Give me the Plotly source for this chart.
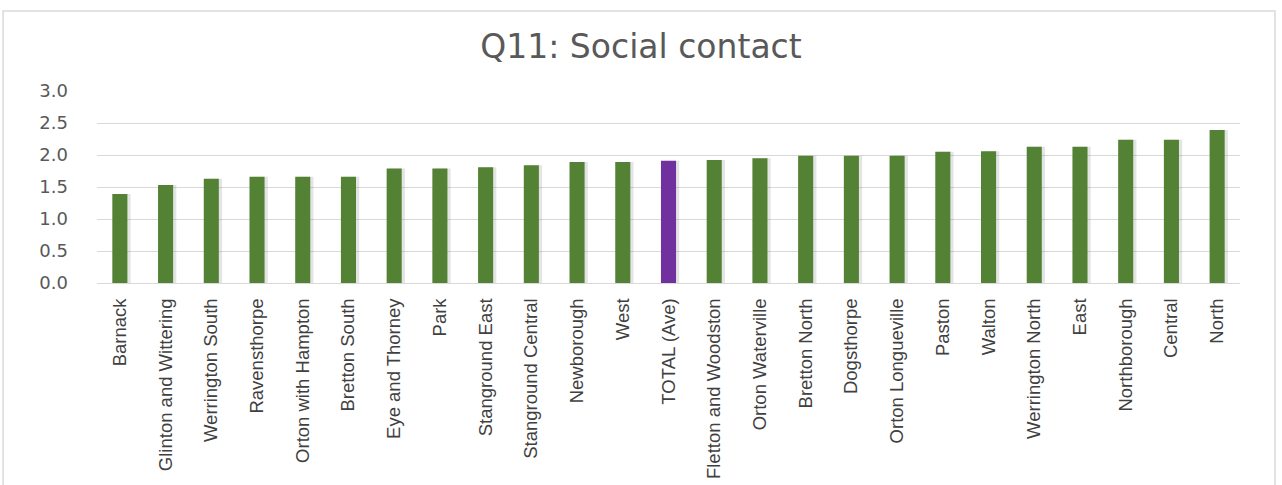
import plotly.graph_objects as go

# Q11 social contact scores by area
AREAS = [
    'Barnack', 'Glinton and Wittering', 'Werrington South', 'Ravensthorpe',
    'Orton with Hampton', 'Bretton South', 'Eye and Thorney', 'Park',
    'Stanground East', 'Stanground Central', 'Newborough', 'West',
    'TOTAL (Ave)', 'Fletton and Woodston', 'Orton Waterville', 'Bretton North',
    'Dogsthorpe', 'Orton Longueville', 'Paston', 'Walton',
    'Werrington North', 'East', 'Northborough', 'Central', 'North',
]
SCORES = [
    1.39, 1.53, 1.63, 1.66, 1.66, 1.66, 1.79, 1.79,
    1.81, 1.84, 1.89, 1.89, 1.91, 1.92, 1.95, 1.99,
    1.99, 1.99, 2.05, 2.06, 2.13, 2.13, 2.24, 2.24, 2.39,
]
Y_TICKS = [0.0, 0.5, 1.0, 1.5, 2.0, 2.5, 3.0]

GREEN = '#548235'
PURPLE = '#7030a0'
colors = [PURPLE if a.startswith('TOTAL') else GREEN for a in AREAS]

BAR_W = 0.33

fig = go.Figure()
# soft drop shadow to the right of each bar, like the Excel original
fig.add_trace(go.Bar(
    x=AREAS, y=SCORES, width=BAR_W, offset=-BAR_W / 2 + 0.07,
    marker=dict(color='rgba(90,90,90,0.16)', line=dict(width=0)),
    hoverinfo='skip',
))
fig.add_trace(go.Bar(
    x=AREAS, y=SCORES, width=BAR_W, offset=-BAR_W / 2,
    marker=dict(color=colors, line=dict(width=0)),
))

fig.update_layout(
    width=1282, height=485,
    margin=dict(l=97, r=42, t=91, b=202),
    paper_bgcolor='white', plot_bgcolor='white',
    barmode='overlay',
    showlegend=False,
    title=dict(text='Q11: Social contact', x=0.5, xanchor='center',
               y=0.905, yanchor='middle',
               font=dict(family='DejaVu Sans', size=33, color='#595959')),
    xaxis=dict(tickangle=-90, showgrid=False, showline=True,
               linecolor='#d9d9d9', linewidth=1, ticks='',
               ticklabelstandoff=7, automargin=False,
               tickfont=dict(family='Liberation Sans', size=18.5, color='#404040')),
    yaxis=dict(range=[0, 3.0], tickvals=Y_TICKS, tickformat='.1f',
               gridcolor='#d9d9d9', gridwidth=1, zeroline=False, ticks='',
               ticklabelstandoff=28, automargin=False,
               tickfont=dict(family='DejaVu Sans', size=18, color='#595959')),
    shapes=[dict(type='rect', xref='paper', yref='paper',
                 x0=-0.0822, x1=1.0306, y0=-1.2, y1=1.4167,
                 line=dict(color='#d9d9d9', width=1.5), layer='below')],
)

# drop the default body margin so the figure sits at the page origin
fig.write_html('out.html', config={'displayModeBar': False},
               post_script="document.body.style.margin='0';")
